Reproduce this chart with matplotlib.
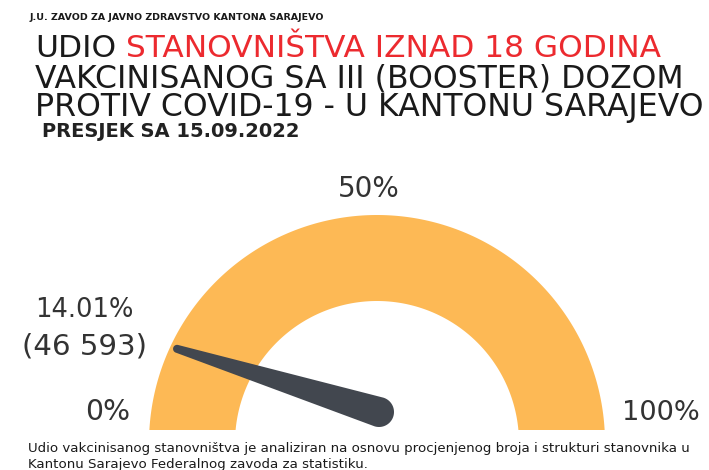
import numpy as np
import matplotlib
matplotlib.use('Agg')
import matplotlib.pyplot as plt
from matplotlib.patches import Polygon, Rectangle

plt.rc('font', family='DejaVu Sans')

# data
value = 14.01
count = '46 593'
scale_min, scale_mid, scale_max = 0, 50, 100
header = 'J.U. ZAVOD ZA JAVNO ZDRAVSTVO KANTONA SARAJEVO'
title_black = 'UDIO'
title_red = 'STANOVNIŠTVA IZNAD 18 GODINA'
title_l2 = 'VAKCINISANOG SA III (BOOSTER) DOZOM'
title_l3 = 'PROTIV COVID-19 - U KANTONU SARAJEVO'
subtitle = 'PRESJEK SA 15.09.2022'
note_l1 = 'Udio vakcinisanog stanovništva je analiziran na osnovu procjenjenog broja i strukturi stanovnika u'
note_l2 = 'Kantonu Sarajevo Federalnog zavoda za statistiku.'

ORANGE = '#FDB955'
NEEDLE = '#42474F'
RED = '#EC2A2F'
TXT = '#1a1a1a'

W, H = 709, 470
fig = plt.figure(figsize=(W/100, H/100), dpi=100)
ax = fig.add_axes([0, 0, 1, 1])
ax.set_xlim(0, W)
ax.set_ylim(H, 0)
ax.axis('off')
renderer = fig.canvas.get_renderer()


def fit_text(s, x, y, width, ha='left', weight='normal', color=TXT, fs0=20):
    t = ax.text(x, y, s, ha=ha, va='baseline', fontsize=fs0, fontweight=weight, color=color)
    w = t.get_window_extent(renderer).width
    t.set_fontsize(fs0*width/w)
    return t


# gauge ring (bottom cut off above the footnote)
cx, cy = 377, 443
r_out, r_in = 228, 142
clip = Rectangle((0, 0), W, 430, transform=ax.transData)
th = np.linspace(0, np.pi, 200)
ring = np.concatenate([np.c_[cx + r_out*np.cos(th), cy - r_out*np.sin(th)],
                       np.c_[cx + r_in*np.cos(th[::-1]), cy - r_in*np.sin(th[::-1])]])
p = Polygon(ring, closed=True, fc=ORANGE, ec='none')
ax.add_patch(p)
p.set_clip_path(clip)

# needle: tapered, round ends
ang = np.pi*(1 - (value - scale_min)/(scale_max - scale_min))
tip = np.array([cx + 221*np.cos(ang), cy - 221*np.sin(ang)])
base = np.array([379, 412])
u = (tip - base)/np.hypot(*(tip - base))
n = np.array([-u[1], u[0]])
rb, rt = 15, 4
pts = [tip + rt*(np.cos(a)*u + np.sin(a)*n) for a in np.linspace(-np.pi/2, np.pi/2, 30)]
pts += [base + rb*(np.cos(a)*u + np.sin(a)*n) for a in np.linspace(np.pi/2, 3*np.pi/2, 40)]
nd = Polygon(np.array(pts), closed=True, fc=NEEDLE, ec='none', zorder=3)
ax.add_patch(nd)
nd.set_clip_path(clip)

# titles
fit_text(header, 30, 20, 292, weight='bold')
t1 = fit_text(title_black + ' ' + title_red, 35, 57, 625)
fs = t1.get_fontsize()
t1.set_text(title_black)
bb = t1.get_window_extent(renderer)
a = ax.text(0, 0, 'I I', fontsize=fs)
b = ax.text(0, 0, 'I', fontsize=fs)
sp = a.get_window_extent(renderer).width - 2*b.get_window_extent(renderer).width
a.remove()
b.remove()
ax.text(bb.x1 + sp, 57, title_red, fontsize=fs, color=RED, va='baseline')
fit_text(title_l2, 35, 88, 648)
fit_text(title_l3, 35, 116, 668)
fit_text(subtitle, 42, 137, 258, weight='bold', color='#222222')

# gauge labels
fit_text(f'{scale_mid}%', 369, 197, 62, ha='center', color='#333333')
fit_text(f'{value:.2f}%', 84, 317, 98, ha='center', color='#333333')
fit_text(f'({count})', 85, 354, 125, ha='center', color='#333333')
fit_text(f'{scale_min}%', 108, 420, 45, ha='center', color='#333333')
fit_text(f'{scale_max}%', 661, 420, 78, ha='center', color='#333333')

# footnote
fs_n = fit_text(note_l1, 28, 452, 662).get_fontsize()
ax.text(28, 468, note_l2, fontsize=fs_n, color=TXT, va='baseline')

fig.savefig('out.png', dpi=100)
